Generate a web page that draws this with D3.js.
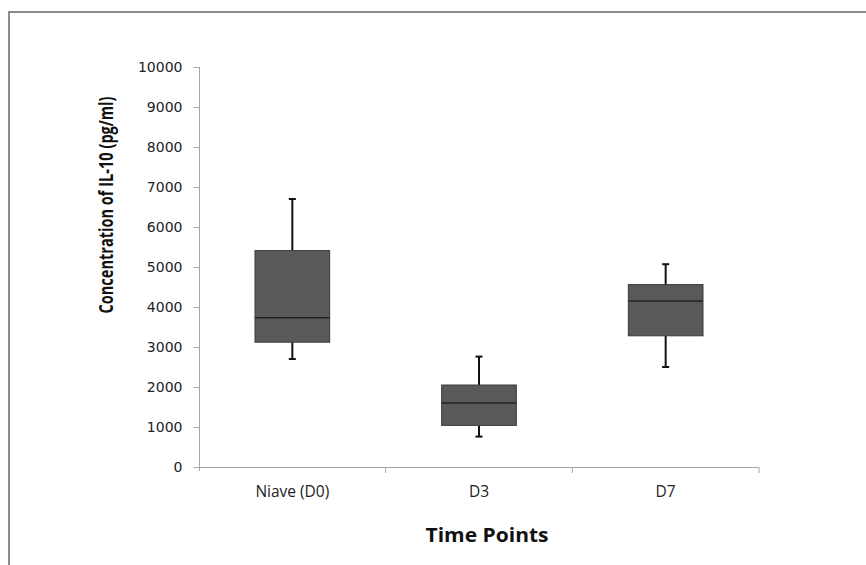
<!DOCTYPE html>
<html>
  <head>
    <script src="https://d3js.org/d3.v7.min.js"></script>
    <style>
      body { margin: 0; background: #fff; }
      .box { fill: #595959; stroke: #3a3a3a; stroke-width: 1; }
      .median { stroke: #222; stroke-width: 1.5; }
      .whisker { stroke: #111; stroke-width: 2; }
      .axis path, .axis line { stroke: #a6a6a6; }
    </style>
  </head>
  <body>
    <svg id="chart" width="866" height="565"></svg>
    <script>
      var categories = ["Niave (D0)", "D3", "D7"];
      var mins    = [2700,  760, 2500];
      var q1s     = [3120, 1040, 3280];
      var medians = [3730, 1600, 4150];
      var q3s     = [5410, 2050, 4560];
      var maxs    = [6700, 2760, 5070];
      var yTicks  = [0, 1000, 2000, 3000, 4000, 5000, 6000, 7000, 8000, 9000, 10000];

      var data = categories.map((c, i) => ({
        name: c, min: mins[i], q1: q1s[i], median: medians[i], q3: q3s[i], max: maxs[i]
      }));

      var svg = d3.select("#chart");

      // outer chart frame (runs off the right/bottom edge)
      svg.append("rect")
        .attr("x", 9).attr("y", 12)
        .attr("width", 880).attr("height", 580)
        .attr("fill", "none")
        .attr("stroke", "#8c8c8c")
        .attr("stroke-width", 2);

      var plotLeft = 199, plotRight = 759, plotTop = 67, plotBottom = 467;

      var y = d3.scaleLinear().domain([0, 10000]).range([plotBottom, plotTop]);
      var x = d3.scaleBand().domain(categories).range([plotLeft, plotRight])
        .paddingInner(0.6).paddingOuter(0.3);

      // y axis
      var yAxis = svg.append("g")
        .attr("class", "axis")
        .attr("transform", `translate(${plotLeft + 0.5},0)`)
        .call(d3.axisLeft(y).tickValues(yTicks).tickSize(6).tickPadding(11).tickFormat(d3.format("d")));
      yAxis.select(".domain").attr("d", `M0,${plotTop}V${plotBottom + 4}`);
      yAxis.selectAll("text")
        .attr("font-family", "DejaVu Sans, sans-serif")
        .attr("font-size", 14)
        .attr("fill", "#222");

      // x axis: labels centred in bands, ticks on band boundaries
      var xAxis = svg.append("g")
        .attr("class", "axis")
        .attr("transform", `translate(0,${plotBottom})`)
        .call(d3.axisBottom(x).tickSize(0).tickPadding(19));
      xAxis.select(".domain").attr("d", `M${plotLeft},0.5H${plotRight}`);
      xAxis.selectAll("text")
        .attr("font-family", "Open Sans, sans-serif")
        .attr("font-size", 15.5)
        .attr("fill", "#222");
      var bounds = d3.range(categories.length + 1).map(i => plotLeft + i * x.step());
      xAxis.selectAll("line.bound")
        .data(bounds.slice(1))
        .enter().append("line")
        .attr("class", "bound")
        .attr("x1", d => d).attr("x2", d => d)
        .attr("y1", 0).attr("y2", 6)
        .attr("stroke", "#a6a6a6");

      // boxes
      var g = svg.selectAll("g.bp")
        .data(data)
        .enter().append("g")
        .attr("class", "bp");

      var cx = d => x(d.name) + x.bandwidth() / 2;

      g.append("line").attr("class", "whisker")
        .attr("x1", cx).attr("x2", cx)
        .attr("y1", d => y(d.max)).attr("y2", d => y(d.q3));
      g.append("line").attr("class", "whisker")
        .attr("x1", cx).attr("x2", cx)
        .attr("y1", d => y(d.q1)).attr("y2", d => y(d.min));
      ["max", "min"].forEach(k => {
        g.append("line").attr("class", "whisker")
          .attr("x1", d => cx(d) - 3.5).attr("x2", d => cx(d) + 3.5)
          .attr("y1", d => y(d[k])).attr("y2", d => y(d[k]));
      });

      g.append("rect").attr("class", "box")
        .attr("x", d => x(d.name))
        .attr("width", x.bandwidth())
        .attr("y", d => y(d.q3))
        .attr("height", d => y(d.q1) - y(d.q3));

      g.append("line").attr("class", "median")
        .attr("x1", d => x(d.name)).attr("x2", d => x(d.name) + x.bandwidth())
        .attr("y1", d => y(d.median)).attr("y2", d => y(d.median));

      // axis titles
      svg.append("text")
        .attr("transform", "translate(113,205) rotate(-90)")
        .attr("text-anchor", "middle")
        .attr("font-family", "Open Sans, sans-serif")
        .attr("font-weight", "bold")
        .attr("font-size", 19)
        .attr("textLength", 217)
        .attr("lengthAdjust", "spacingAndGlyphs")
        .attr("fill", "#111")
        .text("Concentration of IL-10 (pg/ml)");

      svg.append("text")
        .attr("x", 487).attr("y", 542)
        .attr("text-anchor", "middle")
        .attr("font-family", "Open Sans, sans-serif")
        .attr("font-weight", "bold")
        .attr("font-size", 20)
        .attr("textLength", 123)
        .attr("lengthAdjust", "spacingAndGlyphs")
        .attr("fill", "#111")
        .text("Time Points");
    </script>
  </body>
</html>
